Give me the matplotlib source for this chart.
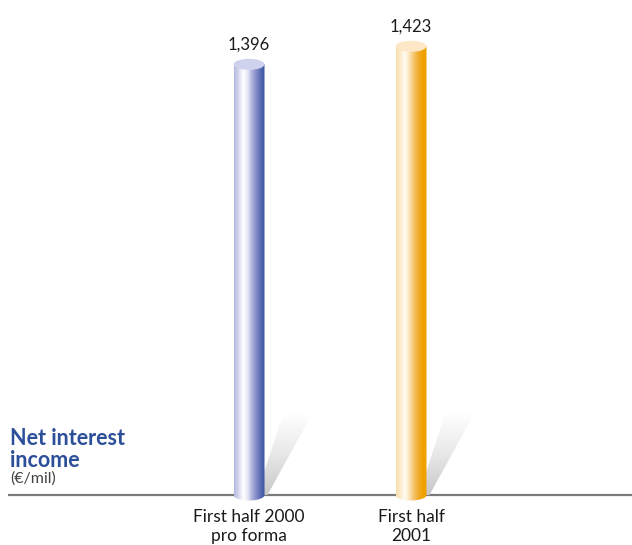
import numpy as np
import matplotlib
matplotlib.use("Agg")
import matplotlib.pyplot as plt
from matplotlib.path import Path
from matplotlib.patches import Ellipse, Polygon, PathPatch
from matplotlib.colors import LinearSegmentedColormap

# chart data
categories = ["First half 2000\npro forma", "First half\n2001"]
values = [1396, 1423]
value_labels = ["1,396", "1,423"]

# cylinder shading, left to right across the bar
blue_stops = ["#b4b8de", "#d6d8ef", "#ffffff", "#e4e6f4", "#aab0da",
              "#7f89c6", "#5467b0", "#2c4d9c"]
orange_stops = ["#f8dcaa", "#fdebcc", "#fffbf3", "#fce4bc", "#f6c56e",
                "#f1ad33", "#eea200", "#eda300"]
top_colors = ["#cfd2ec", "#fde7c6"]

BASE = 750            # value at the baseline
PX_PER_UNIT = 18 / 27  # vertical pixels per value unit
PX_PER_X = 162         # pixels between the two bars

W, H = 632, 545
fig = plt.figure(figsize=(W / 100, H / 100), dpi=100)
ax = fig.add_axes([0, 0, 1, 1])
ax.axis("off")

x0_px, base_px = 249, 495
ylo = BASE - (H - base_px) / PX_PER_UNIT
yhi = ylo + H / PX_PER_UNIT
xlo = -x0_px / PX_PER_X
xhi = (W - x0_px) / PX_PER_X

bar_w = 31 / PX_PER_X
ell_h = 11 / PX_PER_UNIT


def px(dx, dy):
    return dx / PX_PER_X, dy / PX_PER_UNIT


# baseline
ax.plot([8 / W * (xhi - xlo) + xlo, xhi], [BASE, BASE], color="#7a7a7a",
        lw=1.6, zorder=1, solid_capstyle="butt")

sh_cmap = LinearSegmentedColormap.from_list("sh", ["#c8c8c8", "#e8e8e8", "#ffffff"])

for i, (v, lab) in enumerate(zip(values, value_labels)):
    cx = i
    left, right = cx - bar_w / 2, cx + bar_w / 2

    # soft diagonal shadow behind the bar
    pts = [px(-8, 0), px(3, 0), px(47, 80), px(19, 82)]
    pts = [(right + a, BASE + b) for a, b in pts]
    shp = Polygon(pts, closed=True, facecolor="none", edgecolor="none")
    ax.add_patch(shp)
    grad = np.linspace(0, 1, 64)[:, None]
    xs = [p[0] for p in pts]
    ys = [p[1] for p in pts]
    im = ax.imshow(grad, cmap=sh_cmap, aspect="auto", origin="lower",
                   extent=[min(xs), max(xs), min(ys), max(ys)], zorder=1.5)
    im.set_clip_path(shp)

    # cylinder body with rounded bottom
    t = np.linspace(np.pi, 2 * np.pi, 40)
    verts = [(left, v), (left, BASE)]
    verts += [(cx + bar_w / 2 * np.cos(a), BASE + ell_h / 2 * np.sin(a)) for a in t]
    verts += [(right, v), (left, v)]
    codes = [Path.MOVETO] + [Path.LINETO] * (len(verts) - 2) + [Path.CLOSEPOLY]
    body = PathPatch(Path(verts, codes), facecolor="none", edgecolor="none")
    ax.add_patch(body)
    stops = blue_stops if i == 0 else orange_stops
    cmap = LinearSegmentedColormap.from_list("cyl%d" % i, stops)
    row = np.linspace(0, 1, 128)[None, :]
    im = ax.imshow(row, cmap=cmap, aspect="auto",
                   extent=[left, right, BASE - ell_h, v], zorder=2)
    im.set_clip_path(body)

    # top cap
    ax.add_patch(Ellipse((cx, v), bar_w, ell_h, facecolor=top_colors[i],
                         edgecolor="none", zorder=3))

    ax.annotate(lab, (cx, v), xytext=(0, 20), textcoords="offset pixels",
                ha="center", va="center", fontsize=12, color="#1a1a1a",
                family="Lato")
    ax.annotate(categories[i], (cx, BASE), xytext=(0, -14),
                textcoords="offset pixels", ha="center", va="top",
                fontsize=12.5, color="#1a1a1a", family="Lato", linespacing=1.25)

ax.set_xlim(xlo, xhi)
ax.set_ylim(ylo, yhi)

fig.text(10 / W, 1 - 428 / H, "Net interest\nincome", ha="left", va="top",
         fontsize=15.5, fontweight="bold", color="#2c4f99", family="Lato",
         linespacing=1.05)
fig.text(10 / W, 1 - 471 / H, "(€/mil)", ha="left", va="top",
         fontsize=11.5, color="#444444", family="Lato")

fig.savefig("out.png", dpi=100)
